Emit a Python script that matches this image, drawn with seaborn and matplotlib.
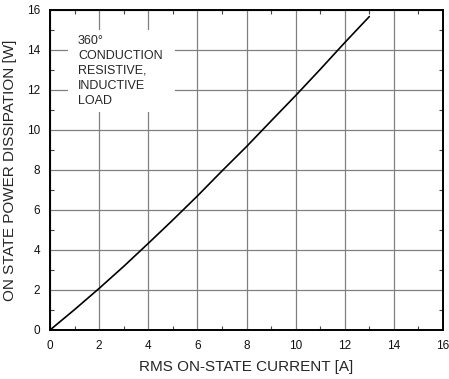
import matplotlib
matplotlib.use("Agg")
import matplotlib.pyplot as plt
from matplotlib.patches import Rectangle
from matplotlib.ticker import MultipleLocator
import seaborn as sns
import pandas as pd

# RMS on-state current [A] and on-state power dissipation [W]
current = [0, 1, 2, 3, 4, 5, 6, 7, 8, 9, 10, 11, 12, 13]
power = [0, 1.02, 2.08, 3.18, 4.33, 5.50, 6.70, 7.95, 9.17, 10.45, 11.72, 13.03, 14.37, 15.67]

note_lines = ["360°", "CONDUCTION", "RESISTIVE,", "INDUCTIVE", "LOAD"]
x_label = "RMS ON-STATE CURRENT [A]"
y_label = "ON STATE POWER DISSIPATION [W]"

sns.set_style("white")
plt.rcParams["font.family"] = ["Liberation Sans", "DejaVu Sans"]

df = pd.DataFrame({"current": current, "power": power})

fig = plt.figure(figsize=(4.49, 3.79), dpi=100)
ax = fig.add_axes([50 / 449, 1 - 330 / 379, 393 / 449, 320 / 379])

sns.lineplot(data=df, x="current", y="power", ax=ax, color="black", lw=1.2, zorder=3)

ax.set_xlim(0, 16)
ax.set_ylim(0, 16)
ax.xaxis.set_major_locator(MultipleLocator(2))
ax.yaxis.set_major_locator(MultipleLocator(2))
ax.xaxis.set_minor_locator(MultipleLocator(1))
ax.yaxis.set_minor_locator(MultipleLocator(1))

ax.grid(True, which="major", color="#808080", lw=0.9)
ax.set_axisbelow(True)

ax.tick_params(which="major", length=0, labelsize=8.5, pad=7, colors="#111111")
ax.tick_params(which="minor", direction="in", length=3, width=0.8,
               top=True, right=True, bottom=True, left=True, color="#444444")

for s in ax.spines.values():
    s.set_visible(True)
    s.set_color("black")
    s.set_linewidth(1.4)

ax.set_xlabel(x_label, fontsize=11, labelpad=6)
ax.set_ylabel(y_label, fontsize=11, labelpad=7)

# white panel behind the operating-condition note
ax.add_patch(Rectangle((0.73, 10.9), 4.36, 4.1, facecolor="white",
                       edgecolor="none", zorder=1))
ax.text(1.14, 14.75, "\n".join(note_lines), fontsize=9, va="top", ha="left",
        linespacing=1.33, zorder=4)

fig.savefig("out.png", dpi=100)
